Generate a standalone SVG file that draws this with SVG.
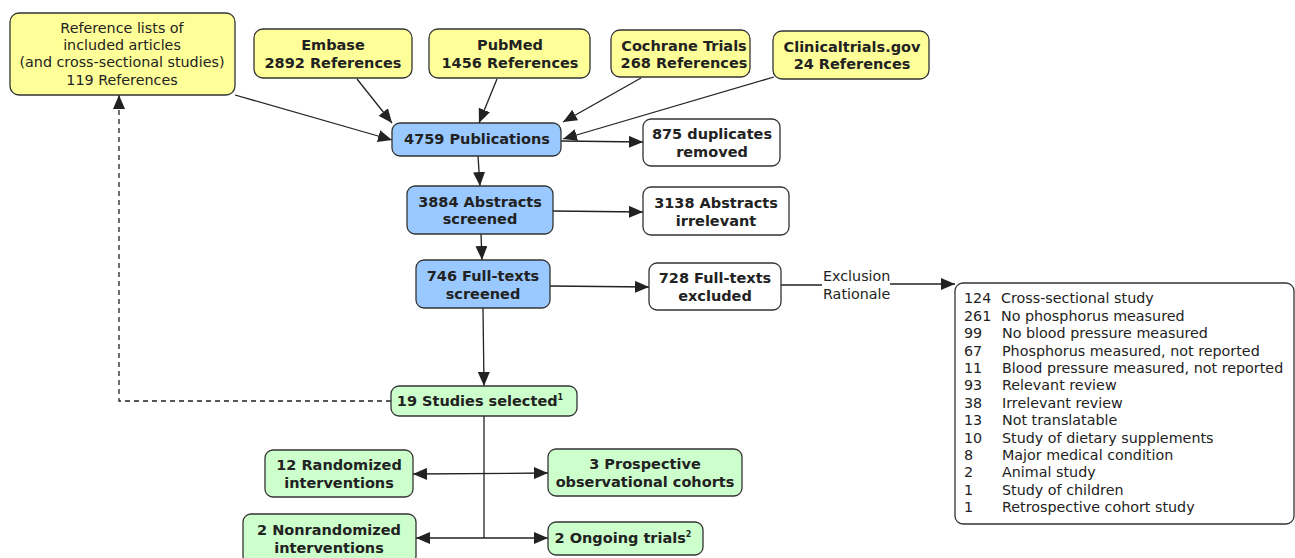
<svg xmlns="http://www.w3.org/2000/svg" width="1295" height="558" viewBox="0 0 1295 558">
<style>
.box{stroke:#333;stroke-width:1.3}
.y{fill:#ffff99}.b{fill:#99c9ff}.g{fill:#ccffcc}.w{fill:#fff}
text{font-family:"DejaVu Sans",Verdana,sans-serif;font-size:14.3px;fill:#222;text-anchor:middle}
.bd{font-weight:bold;font-size:14.5px}
.l{text-anchor:start}
.sup{font-size:8px;font-weight:bold}
.c{stroke:#222;stroke-width:1.3;fill:none}
</style>
<defs>
<marker id="a2" viewBox="0 0 14 12" refX="14" refY="6" markerWidth="14" markerHeight="12" markerUnits="userSpaceOnUse" orient="auto-start-reverse">
<path d="M0,0 L14,6 L0,12 z" fill="#222"/>
</marker>
</defs>
<g id="connectors">
<line class="c" x1="235" y1="95" x2="392" y2="140" marker-end="url(#a2)"/>
<line class="c" x1="357" y1="79" x2="392" y2="123" marker-end="url(#a2)"/>
<line class="c" x1="497" y1="79" x2="479" y2="123" marker-end="url(#a2)"/>
<line class="c" x1="641" y1="78" x2="563" y2="122" marker-end="url(#a2)"/>
<line class="c" x1="774" y1="77" x2="563" y2="139" marker-end="url(#a2)"/>
<line class="c" x1="561" y1="141" x2="643" y2="142" marker-end="url(#a2)"/>
<line class="c" x1="478" y1="156" x2="480" y2="186" marker-end="url(#a2)"/>
<line class="c" x1="553" y1="211" x2="643" y2="212" marker-end="url(#a2)"/>
<line class="c" x1="481" y1="234" x2="482" y2="260" marker-end="url(#a2)"/>
<line class="c" x1="550" y1="286" x2="649" y2="287" marker-end="url(#a2)"/>
<line class="c" x1="483" y1="308" x2="484" y2="386" marker-end="url(#a2)"/>
<line class="c" x1="781" y1="285" x2="822" y2="285"/>
<line class="c" x1="890" y1="284" x2="955" y2="284" marker-end="url(#a2)"/>
<polyline class="c" points="391,401 119,401 119,95" stroke-dasharray="5,4" marker-end="url(#a2)"/>
<line class="c" x1="484" y1="416" x2="484" y2="538"/>
<line class="c" x1="413" y1="474" x2="548" y2="473" marker-start="url(#a2)" marker-end="url(#a2)"/>
<line class="c" x1="416" y1="538" x2="548" y2="538" marker-start="url(#a2)" marker-end="url(#a2)"/>
</g>
<g id="n_reflists"><rect class="box y" x="10" y="13" width="225" height="82" rx="9"/>
<text x="122" y="33">Reference lists of</text><text x="122" y="50">included articles</text><text x="122" y="67">(and cross-sectional studies)</text><text x="122" y="85">119 References</text></g>
<g id="n_embase"><rect class="box y" x="254" y="29" width="158" height="49" rx="9"/>
<text class="bd" x="333" y="50">Embase</text><text class="bd" x="333" y="68">2892 References</text></g>
<g id="n_pubmed"><rect class="box y" x="429" y="29" width="161" height="49" rx="9"/>
<text class="bd" x="510" y="50">PubMed</text><text class="bd" x="510" y="68">1456 References</text></g>
<g id="n_cochrane"><rect class="box y" x="611" y="30" width="139" height="47" rx="9"/>
<text class="bd" x="684" y="51">Cochrane Trials</text><text class="bd" x="684" y="68">268 References</text></g>
<g id="n_clinical"><rect class="box y" x="773" y="31" width="156" height="48" rx="9"/>
<text class="bd" x="852" y="52">Clinicaltrials.gov</text><text class="bd" x="852" y="69">24 References</text></g>
<g id="n_pub"><rect class="box b" x="392" y="123" width="169" height="33" rx="8"/>
<text class="bd" x="477" y="144">4759 Publications</text></g>
<g id="n_dup"><rect class="box w" x="643" y="119" width="137" height="47" rx="8"/>
<text class="bd" x="712" y="139">875 duplicates</text><text class="bd" x="712" y="157">removed</text></g>
<g id="n_abs"><rect class="box b" x="407" y="186" width="146" height="48" rx="8"/>
<text class="bd" x="480" y="207">3884 Abstracts</text><text class="bd" x="480" y="224">screened</text></g>
<g id="n_absirr"><rect class="box w" x="643" y="187" width="146" height="48" rx="8"/>
<text class="bd" x="716" y="208">3138 Abstracts</text><text class="bd" x="716" y="226">irrelevant</text></g>
<g id="n_full"><rect class="box b" x="416" y="260" width="134" height="48" rx="8"/>
<text class="bd" x="483" y="281">746 Full-texts</text><text class="bd" x="483" y="299">screened</text></g>
<g id="n_fullex"><rect class="box w" x="649" y="263" width="132" height="47" rx="8"/>
<text class="bd" x="715" y="283">728 Full-texts</text><text class="bd" x="715" y="301">excluded</text></g>
<g id="l_excl"><text class="l" x="823" y="281">Exclusion</text><text class="l" x="823" y="299">Rationale</text></g>
<g id="n_list"><rect class="box w" x="955" y="283" width="339" height="241" rx="8"/>
<text class="l" x="964" y="303">124</text><text class="l" x="1001" y="303">Cross-sectional study</text>
<text class="l" x="964" y="321">261</text><text class="l" x="1001" y="321">No phosphorus measured</text>
<text class="l" x="964" y="338">99</text><text class="l" x="1002" y="338">No blood pressure measured</text>
<text class="l" x="964" y="356">67</text><text class="l" x="1002" y="356">Phosphorus measured, not reported</text>
<text class="l" x="964" y="373">11</text><text class="l" x="1002" y="373">Blood pressure measured, not reported</text>
<text class="l" x="964" y="390">93</text><text class="l" x="1002" y="390">Relevant review</text>
<text class="l" x="964" y="408">38</text><text class="l" x="1002" y="408">Irrelevant review</text>
<text class="l" x="964" y="425">13</text><text class="l" x="1002" y="425">Not translatable</text>
<text class="l" x="964" y="443">10</text><text class="l" x="1002" y="443">Study of dietary supplements</text>
<text class="l" x="964" y="460">8</text><text class="l" x="1002" y="460">Major medical condition</text>
<text class="l" x="964" y="477">2</text><text class="l" x="1002" y="477">Animal study</text>
<text class="l" x="964" y="495">1</text><text class="l" x="1002" y="495">Study of children</text>
<text class="l" x="964" y="512">1</text><text class="l" x="1002" y="512">Retrospective cohort study</text></g>
<g id="n_sel"><rect class="box g" x="391" y="386" width="186" height="30" rx="8"/>
<text class="bd" x="480" y="406">19 Studies selected<tspan class="sup" dy="-6">1</tspan></text></g>
<g id="n_rand"><rect class="box g" x="265" y="450" width="148" height="47" rx="8"/>
<text class="bd" x="339" y="470">12 Randomized</text><text class="bd" x="339" y="488">interventions</text></g>
<g id="n_prosp"><rect class="box g" x="548" y="449" width="194" height="47" rx="8"/>
<text class="bd" x="645" y="469">3 Prospective</text><text class="bd" x="645" y="487">observational cohorts</text></g>
<g id="n_nonrand"><rect class="box g" x="243" y="514" width="173" height="50" rx="8"/>
<text class="bd" x="329" y="535">2 Nonrandomized</text><text class="bd" x="329" y="553">interventions</text></g>
<g id="n_ongoing"><rect class="box g" x="548" y="522" width="155" height="33" rx="8"/>
<text class="bd" x="623" y="543">2 Ongoing trials<tspan class="sup" dy="-6">2</tspan></text></g>
</svg>
